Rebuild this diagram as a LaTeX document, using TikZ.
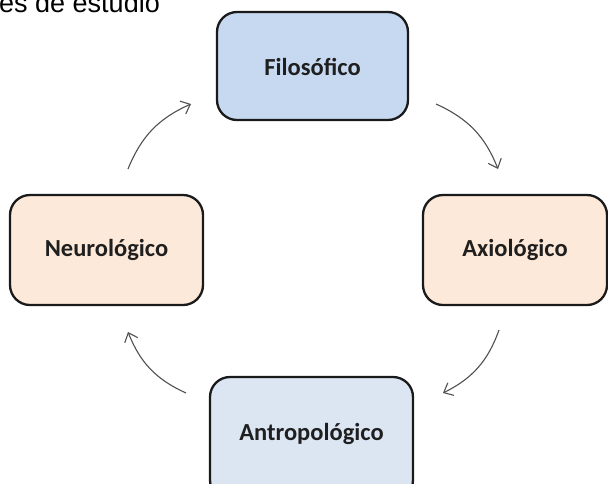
\documentclass[tikz,border=0pt]{standalone}
\usepackage{fontspec}
\setmainfont{Carlito}
\newfontfamily\headfont{Liberation Sans}
\usetikzlibrary{arrows.meta}
\definecolor{blueA}{HTML}{C6D9F1}
\definecolor{blueB}{HTML}{DCE6F2}
\definecolor{peach}{HTML}{FDE9D9}
\definecolor{edge}{HTML}{1A1A1A}
\definecolor{flow}{HTML}{505050}
\tikzset{
  stage/.style={draw=edge, line width=2.3pt, rounded corners=20pt},
  stagetext/.style={font=\bfseries\fontsize{24.5}{28}\selectfont, text=black!88},
  cyclearrow/.style={draw=flow, line width=1.1pt,
    -{Straight Barb[length=8pt,width=14pt,line width=1.1pt]}},
}
\begin{document}
\begin{tikzpicture}[x=1pt,y=1pt]
\useasboundingbox (0,0) rectangle (608,-483);
\clip (0,0) rectangle (608,-483);
\fill[white] (0,0) rectangle (608,-483);

% heading, cut off by the top edge
\node[anchor=base west, inner sep=0pt, font=\headfont\fontsize{27}{30}\selectfont]
  (head) at (-1,-12.5) {es de estudio};

% the four stages
\draw[stage, fill=blueA] (217,-12) rectangle (408,-120);
\node[stagetext] (filo) at (312.5,-67) {Filosófico};
\draw[stage, fill=peach] (423,-195) rectangle (607,-305);
\node[stagetext] (axio) at (515,-250) {Axiológico};
\draw[stage, fill=peach] (10,-195) rectangle (203,-305);
\node[stagetext] (neuro) at (106.5,-250) {Neurológico};
\draw[stage, fill=blueB] (210,-377) rectangle (413,-500);
\node[stagetext] (antro) at (311.5,-434) {Antropológico};

% arrow ends
\coordinate (a1s) at (128,-169);
\coordinate (a1e) at (191,-104);
\coordinate (a2s) at (436,-104);
\coordinate (a2e) at (498,-169);
\coordinate (a3s) at (499,-330);
\coordinate (a3e) at (443,-393);
\coordinate (a4s) at (186,-393);
\coordinate (a4e) at (128,-332);

\draw[cyclearrow] (a1s) to[bend left=22] (a1e);
\draw[cyclearrow] (a2s) to[bend left=22] (a2e);
\draw[cyclearrow] (a3s) to[bend left=22] (a3e);
\draw[cyclearrow] (a4s) to[bend left=22] (a4e);
\end{tikzpicture}
\end{document}
